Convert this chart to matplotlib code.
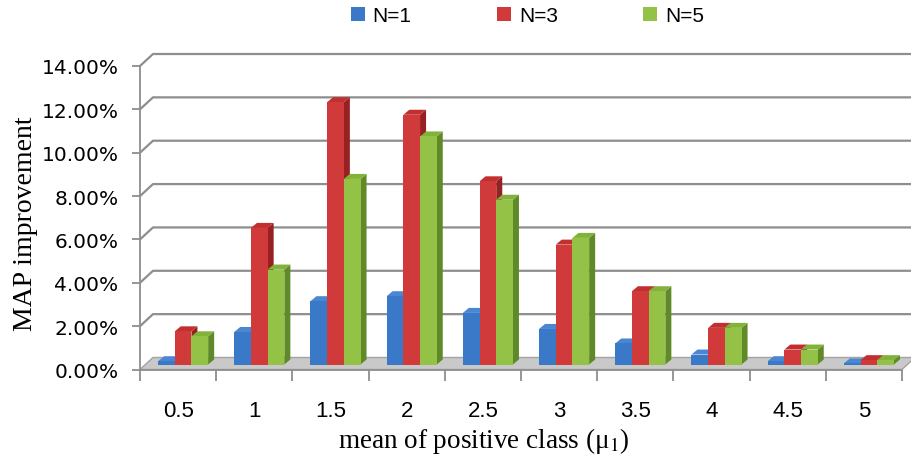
import matplotlib
matplotlib.use("Agg")
from matplotlib import pyplot as plt
from matplotlib.patches import Polygon
import numpy as np

categories = ["0.5", "1", "1.5", "2", "2.5", "3", "3.5", "4", "4.5", "5"]
series_names = ["N=1", "N=3", "N=5"]
n1 = [0.15, 1.50, 2.92, 3.15, 2.38, 1.64, 0.97, 0.46, 0.15, 0.05]
n3 = [1.53, 6.30, 12.10, 11.52, 8.45, 5.53, 3.38, 1.69, 0.69, 0.20]
n5 = [1.30, 4.38, 8.56, 10.52, 7.60, 5.84, 3.38, 1.69, 0.69, 0.20]
yticks = [0, 2, 4, 6, 8, 10, 12, 14]

# front / top / side colours for each series
face_cols = ["#3a78c8", "#d03a3a", "#93c247"]
top_cols = ["#4a86d2", "#c22f2f", "#82b23a"]
side_cols = ["#285a9c", "#962022", "#5f8a27"]

plt.rcParams["mathtext.fontset"] = "stix"
sans = ["Liberation Sans", "DejaVu Sans"]
serif = ["Liberation Serif", "DejaVu Serif"]

W, H = 911, 456
fig = plt.figure(figsize=(W / 100, H / 100), dpi=100)
x_left, x_right, y_bot, y_top = 140, 902, 370.5, 67
ax = fig.add_axes([x_left / W, (H - y_bot) / H, (x_right - x_left) / W, (y_bot - y_top) / H])
ncat = len(categories)
ax.set_xlim(0, ncat)
ax.set_ylim(0, 14)

# pixel -> data unit helpers
ux = ncat / (x_right - x_left)
uy = 14 / (y_bot - y_top)

grid_col = "#8e8e8e"
wall_dx, wall_dy = 13 * ux, 12 * uy

# back wall + side wall gridlines
for v in yticks[1:]:
    ax.plot([0, wall_dx, ncat + wall_dx + 1], [v, v + wall_dy, v + wall_dy],
            color=grid_col, lw=1.6, zorder=1, clip_on=False, solid_capstyle="butt")

# floor
floor = Polygon([(0, 0), (ncat, 0), (ncat + wall_dx, wall_dy), (wall_dx, wall_dy)],
                closed=True, facecolor="#c9c9c9", edgecolor="#a3a3a3", lw=1.0,
                zorder=2, clip_on=False)
ax.add_patch(floor)

# bars
bw = 16.7 * ux
fx, fy = 5 * ux, 5 * uy      # front plane of bars
ddx, ddy = 6 * ux, 5 * uy    # bar depth
series = [n1, n3, n5]
for i in range(ncat):
    for j, vals in enumerate(series):
        v = vals[i]
        x0 = i + 0.5 - 1.5 * bw + fx + j * bw
        b = fy
        z = 3 + i * 3 + j
        front = Polygon([(x0, b), (x0 + bw, b), (x0 + bw, b + v), (x0, b + v)],
                        closed=True, facecolor=face_cols[j], edgecolor="none", zorder=z, clip_on=False)
        top = Polygon([(x0, b + v), (x0 + bw, b + v), (x0 + bw + ddx, b + v + ddy), (x0 + ddx, b + v + ddy)],
                      closed=True, facecolor=top_cols[j], edgecolor="none", zorder=z, clip_on=False)
        side = Polygon([(x0 + bw, b), (x0 + bw + ddx, b + ddy), (x0 + bw + ddx, b + v + ddy), (x0 + bw, b + v)],
                       closed=True, facecolor=side_cols[j], edgecolor="none", zorder=z, clip_on=False)
        ax.add_patch(side)
        ax.add_patch(top)
        ax.add_patch(front)

# axes lines and ticks
for s in ["top", "right"]:
    ax.spines[s].set_visible(False)
for s in ["left", "bottom"]:
    ax.spines[s].set_color(grid_col)
    ax.spines[s].set_linewidth(1.3)
    ax.spines[s].set_zorder(50)
ax.set_facecolor("none")

ax.set_yticks(yticks)
ax.set_yticklabels(["%.2f%%" % v for v in yticks], fontsize=14.5, family="DejaVu Sans")
ax.tick_params(axis="y", length=5.5, width=1.3, color=grid_col, pad=10)

ax.set_xticks(np.arange(ncat) + 0.5)
ax.set_xticklabels(categories, fontsize=16, family=sans)
ax.tick_params(axis="x", length=0, pad=22)
ax.set_xticks(np.arange(ncat + 1), minor=True)
ax.tick_params(axis="x", which="minor", length=8, width=1.3, color=grid_col)

ax.set_xlabel(r"mean of positive class (μ$_1$)", fontsize=19.5, family=serif)
ax.xaxis.set_label_coords(0.451, -0.183)
ax.set_ylabel("MAP improvement", fontsize=20, family=serif)
ax.yaxis.set_label_coords(-0.134, 0.484)

# legend
handles = [plt.Rectangle((0, 0), 1, 1, facecolor=c, edgecolor="none") for c in face_cols]
fig.legend(handles, series_names, loc="center", bbox_to_anchor=(0.579, 0.964), ncol=3,
           frameon=False, prop={"family": sans, "size": 15}, handlelength=0.67, handleheight=0.67,
           columnspacing=4.1, handletextpad=0.38)

fig.savefig("out.png", dpi=100)
